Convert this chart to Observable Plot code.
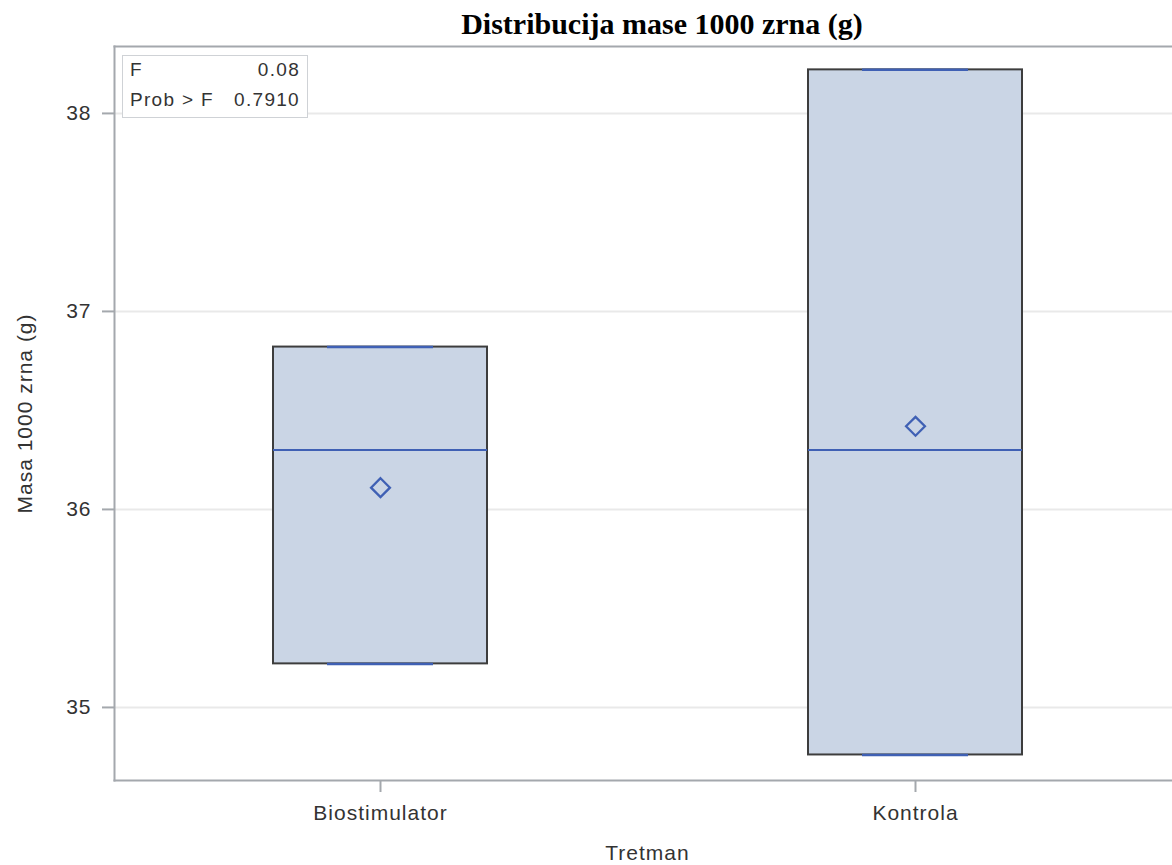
<!DOCTYPE html>
<html>
<head>
<meta charset="utf-8">
<script src="https://cdn.jsdelivr.net/npm/d3@7"></script>
<script src="https://cdn.jsdelivr.net/npm/@observablehq/plot@0.6"></script>
<style>
  html, body { margin: 0; padding: 0; background: #fff; }
  #wrap { position: relative; width: 1172px; height: 865px; overflow: hidden; }
  #title { height: 40px; box-sizing: border-box; padding-top: 9px; padding-left: 152px; text-align: center;
    font-family: "Liberation Serif", "Times New Roman", serif; font-weight: bold; font-size: 30px; line-height: 30px; color: #000; white-space: nowrap; }
  #inset { position: absolute; left: 122px; top: 55px; width: 186px; height: 63px; border: 1.5px solid #cfd2d6;
    font-family: "Liberation Sans", Arial, sans-serif; font-size: 19px; letter-spacing: 1.3px; color: #333; box-sizing: border-box; background: #fff; }
  #inset .row { position: absolute; left: 7px; right: 7px; height: 22px; line-height: 22px; }
  #inset .row span.v { position: absolute; right: 0; }
  svg { display: block; }
  svg text { letter-spacing: 1px; }
</style>
</head>
<body>
<div id="wrap">
  <div id="title">Distribucija mase 1000 zrna (g)</div>
  <div id="chart"></div>
  <div id="inset"></div>
</div>
<script>
const groups = ["Biostimulator", "Kontrola"];
const q1Values = [35.22, 34.76];
const q3Values = [36.82, 38.22];
const minValues = [35.22, 34.76];
const maxValues = [36.82, 38.22];
const medianValues = [36.30, 36.30];
const meanValues = [36.11, 36.42];
const yTicks = [35, 36, 37, 38];
const statLabels = ["F", "Prob > F"];
const statValues = ["0.08", "0.7910"];

const data = groups.map((g, i) => ({
  group: g, q1: q1Values[i], q3: q3Values[i], min: minValues[i], max: maxValues[i],
  median: medianValues[i], mean: meanValues[i]
}));

const blue = "#3f60b4";
const axisGray = "#a4a8ad";
const textColor = "#333";

const chart = Plot.plot({
  width: 1172,
  height: 825,
  marginTop: 6,
  marginBottom: 85,
  marginLeft: 114,
  marginRight: 0,
  style: { fontFamily: "'Liberation Sans', Arial, sans-serif", color: textColor, background: "#fff" },
  x: { type: "band", domain: groups, range: [112, 1183], paddingInner: 0.6, paddingOuter: 0.3 },
  y: { domain: [34.631, 38.338] },
  marks: [
    Plot.gridY(yTicks, { stroke: "#e9e9e9", strokeOpacity: 1, strokeWidth: 2 }),
    Plot.barY(data, { x: "group", y1: "q1", y2: "q3", fill: "#cad5e5", stroke: "#3d3d3d", strokeWidth: 2 }),
    Plot.tickY(data, { x: "group", y: "median", stroke: blue, strokeWidth: 2 }),
    Plot.tickY(data, { x: "group", y: "min", stroke: blue, strokeWidth: 2.5, insetLeft: 54, insetRight: 54 }),
    Plot.tickY(data, { x: "group", y: "max", stroke: blue, strokeWidth: 2.5, insetLeft: 54, insetRight: 54 }),
    Plot.dot(data, { x: "group", y: "mean", symbol: "diamond2", r: 8.5, stroke: blue, strokeWidth: 2.3, fill: "none" }),
    Plot.frame({ anchor: "top", stroke: axisGray, strokeWidth: 2 }),
    Plot.frame({ anchor: "bottom", stroke: axisGray, strokeWidth: 2 }),
    Plot.frame({ anchor: "left", stroke: axisGray, strokeWidth: 2 }),
    Plot.axisY(yTicks, { tickSize: 12, tickPadding: 11, tickFormat: "d", stroke: axisGray, strokeWidth: 2, fontSize: 21, fill: textColor, label: null }),
    Plot.axisX({ tickSize: 12, tickPadding: 13, stroke: axisGray, strokeWidth: 2, fontSize: 21, fill: textColor, label: null }),
    Plot.text(["Masa 1000 zrna (g)"], { frameAnchor: "left", textAnchor: "middle", lineAnchor: "middle", dx: -89, rotate: -90, fontSize: 21, fill: textColor }),
    Plot.text(["Tretman"], { frameAnchor: "bottom", textAnchor: "middle", lineAnchor: "middle", dx: 4, dy: 73, fontSize: 21, fill: textColor })
  ]
});
document.getElementById("chart").appendChild(chart);

const inset = document.getElementById("inset");
statLabels.forEach((lab, i) => {
  const row = document.createElement("div");
  row.className = "row";
  row.style.top = (3 + i * 30) + "px";
  row.innerHTML = `<span>${lab}</span><span class="v">${statValues[i]}</span>`;
  inset.appendChild(row);
});
</script>
</body>
</html>
